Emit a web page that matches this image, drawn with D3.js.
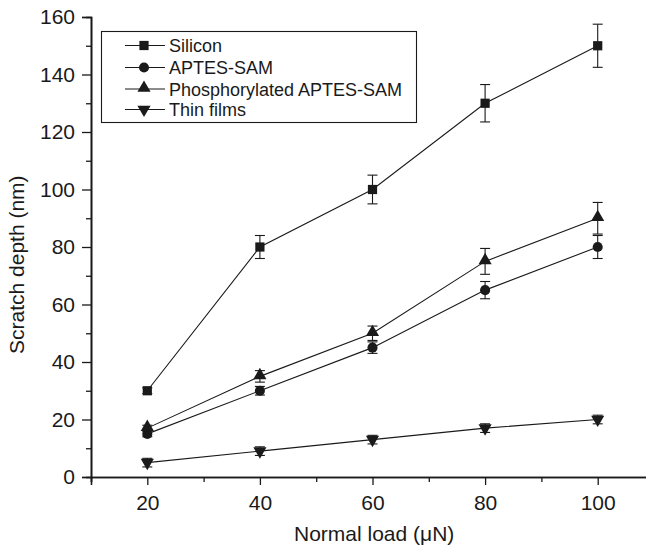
<!DOCTYPE html>
<html>
<head>
<meta charset="utf-8">
<script src="https://cdn.jsdelivr.net/npm/d3@7"></script>
<style>
  html, body { margin: 0; padding: 0; background: #fff; }
  svg { display: block; }
  text { font-family: "Liberation Sans", Arial, Helvetica, sans-serif; fill: #1a1a1a; }
</style>
</head>
<body>
<svg id="chart" width="646" height="549"></svg>
<script>
// Normal load values (µN)
const loads = [20, 40, 60, 80, 100];

// Scratch depth (nm) and error for each surface
const seriesNames = ["Silicon", "APTES-SAM", "Phosphorylated APTES-SAM", "Thin films"];
const siliconDepth = [30, 80, 100, 130, 150];
const siliconErr   = [1, 4, 5, 6.5, 7.5];
const aptesDepth   = [15, 30, 45, 65, 80];
const aptesErr     = [1, 1.5, 2, 3, 4];
const phosDepth    = [17, 35, 50, 75, 90];
const phosErr      = [1, 2, 2.5, 4.5, 5.5];
const filmDepth    = [5, 9, 13, 17, 20];
const filmErr      = [1.5, 1.5, 1.5, 1.5, 1.5];

const markerKinds = ["square", "circle", "triangle", "triangleDown"];

// Axis ticks
const xMajorTicks = [20, 40, 60, 80, 100];
const xMinorTicks = [10, 30, 50, 70, 90, 110];
const yMajorTicks = [0, 20, 40, 60, 80, 100, 120, 140, 160];
const yMinorTicks = [10, 30, 50, 70, 90, 110, 130, 150];

const depths = [siliconDepth, aptesDepth, phosDepth, filmDepth];
const errs = [siliconErr, aptesErr, phosErr, filmErr];
const series = seriesNames.map((name, i) => ({
  name,
  kind: markerKinds[i],
  points: loads.map((x, j) => ({ x, y: depths[i][j], e: errs[i][j] }))
}));

const svg = d3.select("#chart");
const ink = "#1a1a1a";

const x = d3.scaleLinear().domain([10, 110]).range([91, 654]);
const y = d3.scaleLinear().domain([0, 160]).range([477, 17]);

// Marker shapes
const symbolFor = {
  square: d3.symbol().type(d3.symbolSquare).size(85),
  circle: d3.symbol().type(d3.symbolCircle).size(80),
  triangle: d3.symbol().type(d3.symbolTriangle).size(75),
  triangleDown: d3.symbol().type(d3.symbolTriangle).size(75)
};
function drawMarker(g, kind, cx, cy) {
  const p = g.append("path")
    .attr("d", symbolFor[kind]())
    .attr("fill", ink);
  if (kind === "triangleDown") p.attr("transform", `translate(${cx},${cy}) rotate(180)`);
  else if (kind === "triangle") p.attr("transform", `translate(${cx},${cy - 1})`);
  else p.attr("transform", `translate(${cx},${cy})`);
}

// Axes
const xAxis = d3.axisBottom(x).tickValues(xMajorTicks).tickSize(8).tickPadding(10).tickFormat(d3.format("d"));
const xAxisMinor = d3.axisBottom(x).tickValues(xMinorTicks).tickSize(5).tickFormat("");
const yAxis = d3.axisLeft(y).tickValues(yMajorTicks).tickSize(9).tickPadding(7).tickFormat(d3.format("d"));
const yAxisMinor = d3.axisLeft(y).tickValues(yMinorTicks).tickSize(5).tickFormat("");

function styleAxis(g) {
  g.select(".domain").attr("stroke", ink).attr("stroke-width", 1.6);
  g.selectAll(".tick line").attr("stroke", ink).attr("stroke-width", 1.3);
  g.selectAll(".tick text").attr("font-size", 21).attr("fill", ink)
    .attr("font-family", '"Liberation Sans", Arial, sans-serif');
}

svg.append("g").attr("transform", "translate(0,477)").call(xAxisMinor).call(styleAxis);
svg.append("g").attr("transform", "translate(0,477)").call(xAxis).call(styleAxis);
svg.append("g").attr("transform", "translate(91,0)").call(yAxisMinor).call(styleAxis);
svg.append("g").attr("transform", "translate(91,0)").call(yAxis).call(styleAxis);

// Axis titles
svg.append("text")
  .attr("x", 294).attr("y", 541)
  .attr("text-anchor", "start").attr("font-size", 21)
  .text("Normal load (μN)");
svg.append("text")
  .attr("transform", "translate(24,354) rotate(-90)")
  .attr("text-anchor", "start").attr("font-size", 21)
  .text("Scratch depth (nm)");

// Series lines, error bars and markers
const line = d3.line().x(d => x(d.x)).y(d => y(d.y));
const plot = svg.append("g");
series.forEach(s => {
  plot.append("path")
    .attr("d", line(s.points))
    .attr("fill", "none").attr("stroke", ink).attr("stroke-width", 1.1);
});
series.forEach(s => {
  const g = plot.append("g");
  s.points.forEach(p => {
    const cx = x(p.x), top = y(p.y + p.e), bot = y(p.y - p.e);
    g.append("line").attr("x1", cx).attr("x2", cx).attr("y1", top).attr("y2", bot)
      .attr("stroke", ink).attr("stroke-width", 1.1);
    [top, bot].forEach(yy => g.append("line")
      .attr("x1", cx - 5).attr("x2", cx + 5).attr("y1", yy).attr("y2", yy)
      .attr("stroke", ink).attr("stroke-width", 1.1));
    drawMarker(g, s.kind, cx, y(p.y));
  });
});

// Legend
const legend = svg.append("g");
legend.append("rect")
  .attr("x", 101.5).attr("y", 31.5).attr("width", 315).attr("height", 91)
  .attr("fill", "#fff").attr("stroke", ink).attr("stroke-width", 1.1);
const rowY = [45.5, 67.5, 89, 109.5];
series.forEach((s, i) => {
  const ly = rowY[i];
  legend.append("line").attr("x1", 125).attr("x2", 165).attr("y1", ly).attr("y2", ly)
    .attr("stroke", ink).attr("stroke-width", 1.1);
  drawMarker(legend, s.kind, 144, ly);
  legend.append("text").attr("x", 169).attr("y", ly + 6.5)
    .attr("font-size", 18).text(s.name);
});
</script>
</body>
</html>
